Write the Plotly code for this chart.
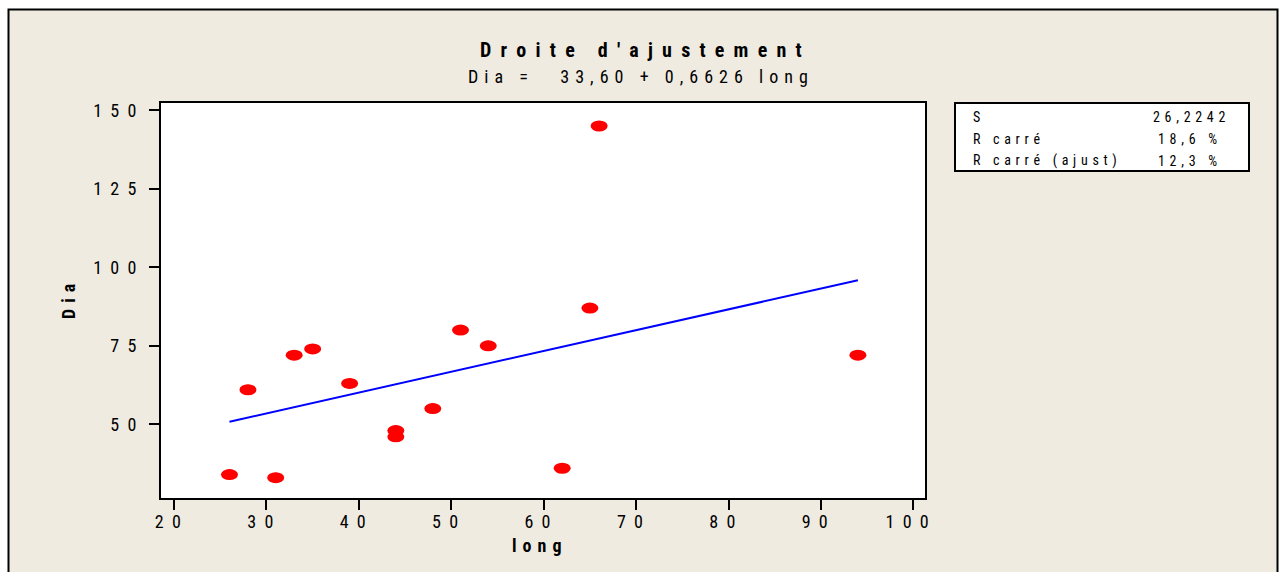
import plotly.graph_objects as go

# Observations
long_vals = [26, 28, 31, 33, 35, 39, 44, 44, 48, 51, 54, 62, 65, 66, 94]
dia_vals = [34, 61, 33, 72, 74, 63, 48, 46, 55, 80, 75, 36, 87, 145, 72]

# Fitted regression coefficients
intercept = 33.60
slope = 0.6626

# Summary statistics
stat_names = ["S", "R carré", "R carré (ajust)"]
stat_values = ["26,2242", "18,6 %", "12,3 %"]

x_ticks = [20, 30, 40, 50, 60, 70, 80, 90, 100]
y_ticks = [50, 75, 100, 125, 150]

title_text = "Droite d'ajustement"
x_label = "long"
y_label = "Dia"

FONT = "Roboto Condensed, DejaVu Sans Condensed, sans-serif"
BEIGE = "#EFEBE1"

W, H = 1288, 572
ML, MR, MT, MB = 161, 363, 103, 74
PW, PH = W - ML - MR, H - MT - MB

NB = "\u00a0"   # non-breaking space
HAIR = "\u200a"  # hair space


def spread(s, gap=NB, word=None):
    """Space out characters the way the legacy graph renderer does."""
    if word is None:
        word = gap + NB + gap
    out = []
    for i, ch in enumerate(s):
        if ch == " ":
            out.append(word)
        else:
            if out and not out[-1].startswith(NB) and out[-1] != word:
                out.append(gap)
            out.append(ch)
    return "".join(out)


def px_x(p):
    return (p - ML) / PW


def px_y(p):
    return 1 - (p - MT) / PH


fit_x = sorted(set(long_vals))
fit_y = [intercept + slope * v for v in fit_x]
subtitle_text = f"{y_label} =  {intercept:.2f} + {slope:.4f} {x_label}".replace(".", ",")

fig = go.Figure()

fig.add_trace(go.Scatter(
    x=fit_x, y=fit_y, mode="lines",
    line=dict(color="#0000FF", width=2),
    hoverinfo="skip", showlegend=False,
))
fig.add_trace(go.Scatter(
    x=long_vals, y=dia_vals, mode="markers",
    marker=dict(color="#FF0000", size=10, line=dict(width=0)),
    showlegend=False,
))

shapes = [
    # outer panel
    dict(type="rect", xref="paper", yref="paper",
         x0=px_x(8.5), x1=px_x(1277.5), y0=px_y(590), y1=px_y(9.5),
         fillcolor=BEIGE, line=dict(color="black", width=2), layer="below"),
    # plot area background
    dict(type="rect", xref="paper", yref="paper", x0=0, x1=1, y0=0, y1=1,
         fillcolor="white", line=dict(width=0), layer="below"),
    # statistics box
    dict(type="rect", xref="paper", yref="paper",
         x0=px_x(955), x1=px_x(1249), y0=px_y(171), y1=px_y(103),
         fillcolor="white", line=dict(color="black", width=2), layer="below"),
]

# elliptical point symbols
for xv, yv in zip(long_vals, dia_vals):
    shapes.append(dict(
        type="circle", xref="x", yref="y",
        xsizemode="pixel", ysizemode="pixel",
        xanchor=xv, yanchor=yv, x0=-8.5, x1=8.5, y0=-5.5, y1=5.5,
        fillcolor="#FF0000", line=dict(width=0),
    ))

annotations = [
    dict(text=f"<b>{spread(title_text, NB * 2)}</b>", x=px_x(641), y=px_y(50),
         font=dict(size=20, family=FONT, color="black")),
    dict(text=spread(subtitle_text, NB + HAIR), x=px_x(638), y=px_y(76),
         font=dict(size=18, family=FONT, color="black")),
    dict(text=f"<b>{spread(y_label, NB + HAIR)}</b>", x=px_x(68), y=px_y(302), textangle=-90,
         font=dict(size=18, family=FONT, color="black")),
    dict(text=f"<b>{spread(x_label, NB + HAIR)}</b>", x=px_x(537), y=px_y(545),
         font=dict(size=18, family=FONT, color="black")),
]

row_y = [117, 138.5, 160.5]
val_right = [1227, 1219, 1219]
for name, val, ry, vr in zip(stat_names, stat_values, row_y, val_right):
    annotations.append(dict(text=spread(name, NB + HAIR), x=px_x(971), y=px_y(ry), xanchor="left",
                            font=dict(size=14, family=FONT, color="black")))
    annotations.append(dict(text=spread(val, NB + HAIR), x=px_x(vr), y=px_y(ry), xanchor="right",
                            font=dict(size=14, family=FONT, color="black")))

for a in annotations:
    a.update(xref="paper", yref="paper", showarrow=False)
    a.setdefault("xanchor", "center")
    a.setdefault("yanchor", "middle")

fig.update_layout(
    width=W, height=H,
    margin=dict(l=ML, r=MR, t=MT, b=MB, pad=0),
    paper_bgcolor="white",
    plot_bgcolor="white",
    shapes=shapes,
    annotations=annotations,
    showlegend=False,
)

axis_common = dict(
    showgrid=False, zeroline=False,
    showline=True, linecolor="black", linewidth=2, mirror=True,
    ticks="outside", ticklen=10, tickwidth=2, tickcolor="black",
    tickfont=dict(size=18, family=FONT, color="black"),
)
# trailing padding nudges each x label slightly left of its tick
fig.update_xaxes(range=[18.59, 101.26], tickvals=x_ticks,
                 ticktext=[spread(str(t), NB * 2) + NB * 3 for t in x_ticks],
                 ticklabelstandoff=-4, **axis_common)
fig.update_yaxes(range=[26.53, 152.32], tickvals=y_ticks,
                 ticktext=[spread(str(t), NB * 2) for t in y_ticks],
                 ticklabelstandoff=9, **axis_common)

fig.write_html("out.html")
